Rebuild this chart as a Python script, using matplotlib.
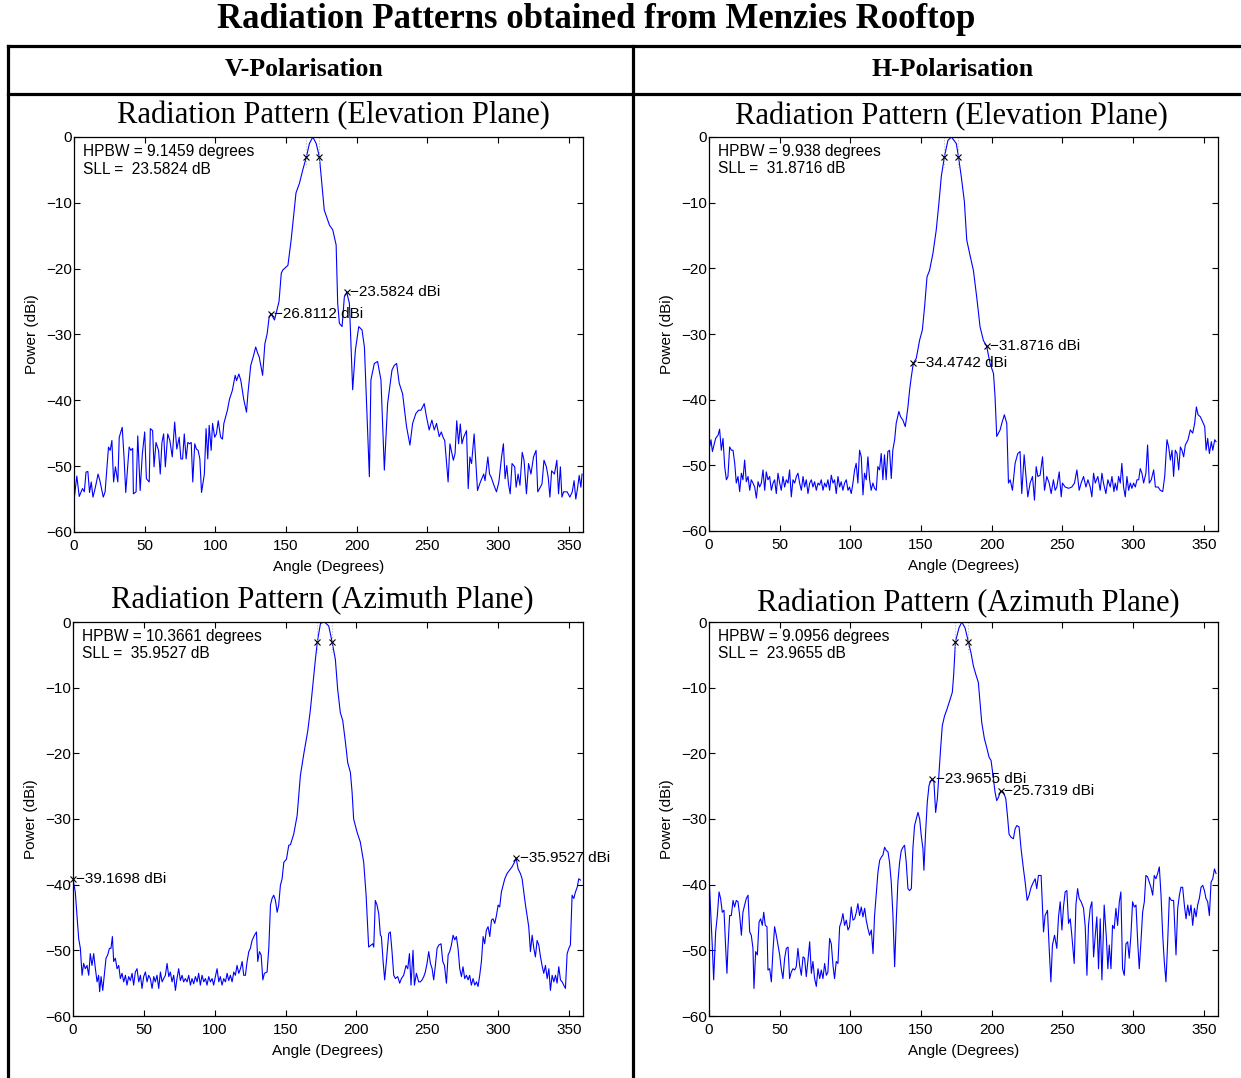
import matplotlib
matplotlib.use('Agg')
import matplotlib.pyplot as plt
from matplotlib.lines import Line2D

plt.rcParams['font.family'] = ['Liberation Sans', 'DejaVu Sans']

# ---- V-polarisation, elevation plane ----
v_el_ang = [0, 2, 3.7, 6, 7.3, 8.5, 9.8, 11, 12.2, 13.4, 14.6, 15.9, 17, 18.3, 20.7, 22,
            24.4, 25.6, 26.8, 28, 29.3, 31, 32, 34.1, 35.4, 36.6, 39, 40.2, 41.5, 42, 43.9,
            45.1, 46.8, 48.3, 50, 51.2, 53.2, 54, 55.6, 56.6, 58, 59.8, 61, 62.2, 63.4, 64.6,
            66.3, 67.8, 69.5, 71.2, 72.7, 74.4, 75.6, 76.8, 78, 79.3, 80.5, 81.7, 82.9, 84,
            85.4, 86.6, 87.8, 89, 90.2, 92.2, 93.4, 94.6, 95.6, 97, 98, 99.5, 100.7, 102,
            103.7, 105, 106, 108.5, 110, 112, 114, 115, 116.6, 118, 120, 122, 123, 125, 127,
            128.5, 130, 131, 133.4, 135, 136.6, 138, 139.3, 141.8, 145, 146.6, 147.7, 151.3,
            153.6, 157, 159.5, 161.8, 164.4, 166.5, 168.9, 171.3, 173.55, 177, 180.7, 183,
            185.4, 186.5, 187.7, 189.6, 191.2, 192.9, 194.8, 197.1, 199, 201.4, 203.7, 205.4,
            208.9, 210, 212.4, 214.7, 217.1, 219.5, 221.8, 224.9, 226.5, 228.2, 230, 232.4,
            235.2, 237.6, 239.5, 241.8, 243.7, 245.4, 247.7, 249.3, 251.2, 253.1, 254.8,
            256.4, 258.3, 259.8, 261, 262.2, 264.6, 265.9, 268.3, 269.5, 270.7, 272, 273.2,
            274.4, 275.6, 277.6, 278.8, 280, 281.2, 283, 285.4, 286.6, 287.8, 289.8, 290.7,
            292.7, 293.9, 295.1, 297, 298.8, 300.5, 302.4, 303.7, 304.9, 306.1, 307.3, 308.5,
            309.8, 311.7, 312.7, 314.1, 315.4, 317, 318.3, 320, 321.5, 323.2, 325, 326.8, 328,
            329.3, 331, 332.4, 334.1, 335.4, 336.6, 337.8, 339.8, 341.5, 342.7, 344, 345.1,
            346.3, 348.8, 350.7, 352.4, 353.7, 354.9, 356.1, 357.3, 358.5, 359.3]
v_el_pw = [-55.2, -51.5, -54.6, -53.4, -53.9, -50.9, -50.8, -54, -52.4, -54.7, -53.7, -52.4,
           -51.2, -52.2, -54.7, -53.9, -47.1, -47.6, -46.1, -52.4, -50.1, -52.4, -45.6, -44.1,
           -48.7, -54, -47.1, -47.6, -47.3, -54.2, -53.9, -45.4, -53.7, -48.2, -44.8, -51.9,
           -52.4, -44.3, -44.6, -50.1, -46.4, -47.6, -51.2, -46.4, -45.1, -50.1, -45.1, -46.1,
           -48.6, -43.3, -47.4, -45.6, -48.9, -48.9, -45.1, -48.9, -46.4, -46.6, -46.4, -52.4,
           -46.6, -47.4, -47.6, -48.9, -54, -51.2, -44.3, -48.9, -43.8, -47.6, -43.5, -45.6,
           -45.1, -43.1, -45.6, -45.9, -43.5, -41.5, -39.8, -38.5, -36.2, -37, -36, -37, -39.8,
           -41.8, -39, -34.7, -33.2, -31.9, -32.9, -33.4, -36.2, -31.4, -29.9, -27.4, -26.8112,
           -27.8, -25, -20.7, -20.2, -19.5, -15.6, -8.5, -7, -5, -3, -1, 0, -1, -3, -11.1, -13.4,
           -14.1, -16.4, -25.3, -28.3, -28.8, -24.3, -23.5824, -25.3, -38.4, -32.4, -28.8,
           -29.3, -31.9, -51.6, -36.9, -34.4, -34.1, -36.9, -50.6, -40.5, -35.4, -34.7, -34.4,
           -37.4, -39, -44, -46.8, -43.5, -42, -41.5, -41.5, -40.5, -42.5, -44.5, -43, -44.5,
           -43.5, -45.5, -44.8, -45.6, -46.1, -52.4, -46.6, -49.1, -48.1, -43.1, -46.6, -43.6,
           -46.6, -45.6, -44.6, -53.4, -48.6, -49.6, -45.1, -53.7, -52.9, -52.2, -51.2, -52.2,
           -48.6, -51.2, -51.7, -52.9, -53.9, -52.4, -48.6, -46.6, -51.9, -49.9, -52.7, -54.2,
           -49.6, -50.1, -53.2, -51.2, -52.9, -47.9, -49.1, -54.2, -49.6, -51.2, -48.6, -47.6,
           -53.9, -53.4, -52.7, -49.1, -50.1, -51.7, -54.7, -50.7, -51.2, -49.1, -54.2, -50.1,
           -54.7, -53.9, -53.9, -54.7, -53.9, -52.2, -55, -53.4, -51.4, -53.2, -51.2]

# ---- H-polarisation, elevation plane ----
h_el_ang = [0, 1.4, 2.4, 4.7, 6.4, 7.5, 8.7, 9.9, 11.1, 12.3, 13.4, 14.6, 15.8, 17, 18.2, 19.3,
            20.5, 21.7, 22.9, 24, 25.2, 26.4, 27.6, 28.8, 29.9, 31.1, 32.3, 33.5, 34.7, 35.8,
            37, 38.2, 39.4, 40.5, 41.7, 42.9, 44.1, 45.3, 46.4, 47.6, 48.8, 50, 51.1, 52.3,
            53.5, 54.7, 55.9, 57, 58.2, 59.4, 60.6, 61.8, 62.9, 64.1, 65.3, 66.5, 67.6, 68.8,
            70, 71.2, 72.4, 73.5, 74.7, 75.9, 77.1, 78.2, 79.4, 80.6, 81.8, 82.9, 84.1, 85.3,
            86.5, 87.7, 88.8, 90, 91.2, 92.4, 93.5, 94.7, 95.9, 97.1, 98.3, 99.4, 100.6, 101.8,
            103, 104.1, 105.3, 106.5, 107.7, 108.9, 110, 111.2, 112.4, 113.6, 114.7, 115.9,
            117.1, 118.3, 119.4, 120.6, 121.8, 123, 124.1, 125.3, 126.5, 127.7, 128.9, 130,
            131.3, 132.4, 134.3, 135.5, 137.1, 138.8, 139.5, 140.7, 141.9, 143.1, 144.5, 146.6,
            149, 150.9, 152.5, 154.2, 156, 158.4, 160.7, 162.6, 164.3, 166.5, 169, 171.5, 174.9,
            176.44, 178.4, 180.6, 182.3, 184.6, 187, 189.3, 191.7, 194.1, 196.4, 198.8, 201.2,
            202.3, 203.5, 205.9, 207.1, 208.9, 210.6, 211.8, 213, 214.6, 216.5, 218.4, 220,
            221.2, 222.9, 224, 225.5, 227.1, 228.8, 230.2, 231.4, 232.6, 234.2, 235.9, 237.3,
            238.9, 240.6, 242, 243.6, 244.8, 246, 247.7, 249.1, 250, 251.9, 254.3, 256.6, 258.5,
            260.2, 261.8, 263.2, 264.9, 266.6, 268, 269.6, 270.8, 272, 273.2, 275, 276.7, 277.9,
            279, 280.7, 282.1, 283.8, 285, 286.4, 287.3, 288.5, 289.7, 290.9, 292, 293.2, 294.4,
            295.6, 296.8, 298, 299.1, 300.3, 301.5, 302.7, 303.9, 305, 306.2, 307.4, 309, 310.2,
            311.4, 312.8, 314.5, 315.7, 317.6, 319.2, 320.9, 322.3, 323.9, 325.1, 326.3, 327.5,
            328.6, 329.8, 331, 332.2, 333.4, 334.5, 335.7, 336.9, 338.8, 340.4, 342.1, 343.5,
            344.7, 345.9, 347.5, 349.2, 350.6, 351.6, 352.7, 353.9, 355.3, 356.3, 357.7, 358.6]
h_el_pw = [-47.7, -46.1, -47.9, -45.9, -45.4, -44.5, -47.7, -45.9, -50.2, -52.2, -51.7, -47.2,
           -47.7, -47.7, -49.7, -52.7, -51.7, -54, -51.2, -52.2, -49.2, -52.5, -51.7, -53.8,
           -52.2, -52.7, -53.3, -55, -52.5, -53.3, -52.7, -50.7, -53.8, -51, -52.2, -51.7,
           -53.8, -52.7, -52.2, -54.3, -51.2, -52.7, -53.8, -51.7, -53.3, -52.2, -52.7, -50.7,
           -54.8, -52.2, -52.7, -51.7, -51.2, -52.7, -53.8, -51.7, -53.3, -52.2, -54.3, -52.7,
           -52.2, -53.3, -52.5, -53.8, -52.7, -53, -52.2, -53.8, -52.7, -53.3, -52.2, -53.8,
           -51.5, -52.7, -52.2, -54.3, -51.7, -53.3, -52.5, -53.8, -52.7, -52.2, -53.8, -53.3,
           -54.3, -52.7, -50.7, -49.7, -52.7, -47.7, -48.7, -54.5, -51.2, -52.2, -48.7, -52.2,
           -53.8, -52.7, -53.5, -53.8, -50.2, -50.7, -48.2, -52.2, -48.4, -52.2, -47.9, -47.7,
           -52, -47.7, -46.1, -43.6, -41.8, -42.6, -43.1, -44.1, -43.1, -41.1, -38.5, -36.5,
           -34.4742, -33.7, -30.9, -29.4, -25.8, -21.3, -20.3, -17.7, -14.2, -10.1, -6, -3,
           -0.5, 0, -1, -3, -6, -9.8, -15.7, -18, -20.3, -24.3, -28.9, -31, -31.8716, -34.5,
           -36, -39.5, -45.6, -44.6, -43.6, -42.3, -43.6, -52.7, -52.2, -53.8, -49.7, -48.2,
           -47.9, -54.3, -48.4, -51.2, -54.8, -52.7, -51.7, -55.3, -50.2, -51.7, -51.5, -48.7,
           -53.8, -51.7, -52.7, -54.3, -52.2, -53.8, -53.3, -51, -54.8, -52.7, -53.3, -53.5,
           -53.3, -52.7, -50.7, -53.8, -52.7, -51.7, -53.3, -52.2, -53.3, -54.8, -51.2, -52.7,
           -51.7, -53.8, -51.2, -52.7, -54.3, -52.2, -53.3, -51.7, -54, -52.7, -53.8, -51.7,
           -52.7, -49.7, -53.3, -54.8, -51.7, -53.8, -52.7, -53.5, -52.7, -53.3, -52.2, -52.2,
           -50.5, -51.2, -52.7, -51.2, -46.9, -52.7, -52.2, -50.7, -53.3, -53.3, -53.8, -54,
           -51.7, -46.1, -47.2, -49.2, -47.7, -51.7, -47.7, -48.2, -50.7, -47.2, -47.7, -48.7,
           -46.9, -46.1, -44.6, -45.1, -43.6, -41.1, -42.3, -42.6, -43.4, -44.1, -47.7, -45.9,
           -48.2, -46.4, -47.7, -46.1, -46.4]

# ---- V-polarisation, azimuth plane ----
v_az_ang = [0, 1.6, 2.8, 4, 5.2, 6.4, 7.5, 8.7, 9.9, 11.1, 12.2, 13.4, 14.6, 15.8, 17, 18.1,
            18.8, 19.8, 21, 22.1, 23.3, 24.5, 25.7, 26.8, 27.8, 28.7, 29.9, 31.1, 32.3, 33.4,
            34.6, 35.8, 37, 38.1, 39.3, 40.5, 41.7, 42.8, 44, 45.2, 46.4, 47.6, 48.7, 49.9,
            51.1, 52.3, 53.4, 54.6, 55.8, 57, 58.1, 59.3, 60.5, 61.7, 62.9, 64, 65.2, 66.4,
            67.6, 68.7, 69.9, 71.1, 72.3, 73.4, 74.6, 75.8, 77, 78.1, 79.3, 80.5, 81.7, 82.9,
            84, 85.2, 86.4, 87.6, 88.7, 89.9, 91.1, 92.3, 93.5, 94.6, 95.8, 97, 98.2, 99.3,
            100.5, 101.7, 102.9, 104, 105.2, 106.4, 107.6, 108.8, 109.9, 111.1, 112.3, 113.5,
            114.6, 115.8, 117, 118.2, 119.4, 120.5, 121.7, 122.9, 124.1, 125.2, 126.4, 128.1,
            129.5, 130.4, 131.6, 132.8, 134, 135.1, 137, 138.2, 139.4, 140.5, 141.7, 142.9,
            144.1, 145.2, 146.4, 147.6, 148.8, 150.7, 152.3, 153.5, 155.8, 158.2, 160.5, 162.9,
            165.7, 167.6, 169.5, 171.1, 172.5, 174.7, 177.5, 180.5, 182.87, 185.2, 186.8, 188.7,
            190.4, 192.3, 193.9, 195.8, 197, 198.1, 200.5, 202.8, 205.2, 206.9, 208.7, 210.4,
            211.6, 212.3, 213.4, 214.6, 215.8, 217, 217.7, 218.9, 220, 221.2, 222.9, 224,
            225.2, 226.4, 227.6, 229.2, 230.6, 231.8, 233.4, 235.1, 236.3, 237.5, 238.6, 240,
            241, 242.4, 244, 245.2, 246.4, 247.6, 248.7, 249.9, 251.1, 252.3, 253.5, 254.6,
            255.8, 257, 258.2, 259.8, 261, 262.2, 263.6, 264.8, 265.9, 267.1, 268.3, 269.5,
            270.6, 271.8, 273, 274.2, 275.3, 276.5, 277.7, 278.9, 280, 281.2, 282.4, 283.6,
            284.8, 285.9, 287.1, 288.3, 289.5, 290.6, 291.8, 293, 294.2, 295.4, 296.5, 297.7,
            298.9, 300.1, 301.2, 302.4, 303.6, 304.8, 306.4, 308.1, 309.9, 311.6, 312.8, 314.2,
            315.8, 317, 318.2, 319.4, 320.5, 321.7, 322.9, 324.1, 325.3, 326.4, 327.6, 328.8,
            330, 331.1, 332.3, 333.5, 334.7, 335.9, 337, 338.2, 339.4, 340.6, 341.7, 342.9,
            344.1, 345.3, 346.4, 347.6, 348.8, 350, 351.1, 352.3, 353.5, 354.7, 355.9, 357,
            358.2]
v_az_pw = [-39.1698, -41.1, -44.7, -48.2, -49.7, -53.8, -52, -52.8, -52.3, -53.8, -50.5, -52.3,
           -50.5, -52.8, -54.8, -53.8, -56.3, -54, -56.1, -53.8, -51.2, -50.7, -49.7, -49.7,
           -47.9, -51.7, -51.2, -52.8, -52.3, -54.3, -53.5, -54.8, -53.8, -55.3, -54, -54.6,
           -53.5, -55.3, -53.3, -52.8, -54.8, -53.8, -55.8, -54, -53.3, -54.8, -53.8, -54.3,
           -55.8, -54, -54.8, -53.8, -55.8, -53.3, -54.8, -54.3, -53.8, -52, -54, -53.3, -54.8,
           -53.8, -56.1, -54.3, -52.8, -54.6, -53.8, -54.8, -54.3, -54.8, -53.8, -55.3, -54.3,
           -55.1, -54, -54.8, -53.5, -55.3, -53.8, -54.8, -54.3, -55.3, -54, -54.8, -54.3,
           -55.3, -54, -52.8, -54.8, -54, -55.3, -54.3, -54.8, -53.5, -54.6, -53.8, -54.8,
           -53.3, -53.8, -52.3, -53.5, -52.8, -51.7, -53.8, -53.8, -51.7, -50.2, -49.7, -48.5,
           -47.7, -47.2, -51.7, -50.2, -50.7, -54.5, -53.5, -53.3, -49.7, -43.1, -42.1, -41.6,
           -42.4, -44.2, -43.1, -40.1, -39.1, -36.6, -36.1, -34, -33.9, -32.3, -29.5, -23.4,
           -20.1, -16.6, -13.3, -9.2, -5.7, -3, -0.2, 0, -0.6, -3, -5.7, -10.2, -13.8, -15,
           -18.3, -21.4, -22.9, -25.9, -30, -32, -33.5, -36.6, -41.6, -49.5, -49.2, -49, -49.5,
           -42.4, -43.1, -44.4, -47.7, -47.9, -51.7, -54.5, -51.7, -47.4, -47.2, -50.2, -53.8,
           -54.3, -54, -55, -54.3, -53.8, -52.3, -52.8, -50.5, -55.3, -50, -55.3, -53.5, -54.8,
           -54.8, -54.5, -54, -53.3, -52, -50.2, -52, -52.8, -54.5, -52.3, -49.7, -49.2, -49,
           -51.7, -52.3, -55, -50.7, -50.2, -49.2, -47.7, -48.4, -47.9, -49.7, -52.8, -54,
           -52.5, -54.3, -53.8, -54.5, -53.8, -55.3, -54.3, -55.3, -54.8, -55.5, -53.8, -51.7,
           -47.9, -49, -46.9, -46.4, -47.9, -45.4, -45.2, -45.9, -44.7, -43.1, -43.4, -41.1,
           -40.1, -39.1, -38.3, -37.8, -37.3, -36.6, -35.9527, -37.6, -38.3, -39.1, -41.1,
           -43.1, -44.7, -46.4, -50.2, -47.7, -49.7, -51, -48.5, -49.2, -51, -52.3, -53.5,
           -52.3, -54.3, -52.8, -56.1, -53.8, -54.8, -53.8, -55, -52.5, -54.5, -54.8, -55.3,
           -55.8, -50.5, -49.7, -49.2, -41.6, -42.1, -41.1, -40.4, -39.1, -39.3]

# ---- H-polarisation, azimuth plane ----
h_az_ang = [0, 2.4, 3.3, 4.7, 5.9, 7.1, 8.2, 9.4, 10.6, 11.8, 12.7, 13.4, 14.6, 15.8, 17, 18.1,
            19.3, 20.5, 21.7, 22.9, 24, 25.2, 26.4, 27.6, 28.8, 29.9, 31.1, 31.8, 33, 34.2,
            35.4, 36.5, 37.7, 38.7, 39.8, 41, 41.7, 42.9, 44.1, 45.2, 46.4, 47.6, 48.8, 50,
            51.1, 52.3, 53.5, 54.7, 55.9, 57, 58.2, 59.4, 60.6, 61.7, 62.9, 64.1, 65.3, 66.5,
            67.6, 68.8, 70, 71.2, 72.4, 73.5, 74.7, 75.9, 77.1, 78.3, 79.4, 80.6, 81.8, 83,
            84.1, 85.3, 86.5, 87.7, 88.8, 90, 91.2, 92.4, 93.5, 94.7, 95.9, 97.1, 98.3, 99.4,
            100.6, 101.8, 103, 104.2, 105.3, 106.5, 107.7, 108.9, 110.1, 111.2, 112.4, 113.6,
            114.8, 116, 117.1, 118.3, 119.5, 120.7, 121.9, 123, 124.2, 125.4, 126.6, 127.7,
            128.9, 130.1, 131.3, 132.5, 133.6, 134.8, 136, 137.2, 138.3, 139.5, 140.7, 141.9,
            143.1, 144.2, 145.4, 146.6, 147.8, 149, 150.1, 151.3, 152, 153.2, 154.4, 155.6,
            156.8, 157.9, 159.1, 160.3, 161.5, 162.7, 163.8, 165, 166.6, 168.3, 170.2, 172.1,
            173, 174.3, 176.8, 178.8, 181.1, 183.4, 185.3, 187, 188.6, 190.5, 191.7, 192.9,
            194.8, 196.4, 198.1, 199.5, 201.2, 202.3, 203.5, 204.7, 206.3, 208.2, 209.9, 211.1,
            212.2, 213.7, 215.3, 216.5, 217.7, 219.3, 220.7, 222.4, 223.6, 225, 226.4, 227.8,
            229.5, 230.7, 231.8, 233, 234.9, 236.6, 237.7, 239.4, 240.6, 241.8, 242.9, 244.4,
            246, 247.2, 248.4, 249.6, 250.7, 251.9, 253.1, 254.3, 255.5, 256.6, 258.3, 259.5,
            260.7, 261.8, 263.2, 264.9, 266.1, 267.3, 268.4, 269.6, 270.8, 272, 273.2, 274.3,
            275.5, 276.7, 277.9, 279.5, 281, 282.1, 283.1, 284.3, 285.4, 286.6, 287.8, 289,
            290.2, 291.3, 292.5, 293.7, 294.9, 296.1, 297.2, 298.4, 299.6, 300.8, 302, 303.2,
            304.3, 305.5, 306.7, 307.9, 309, 310.2, 311.4, 312.6, 313.8, 314.9, 316.1, 317.3,
            318.5, 319.7, 320.9, 322, 323.2, 324.4, 325.6, 327, 328.6, 330.3, 331.5, 332.7,
            333.8, 335, 336.2, 337.4, 338.6, 339.7, 340.9, 342.1, 343.3, 344.5, 345.6, 346.8,
            348, 349.2, 350.4, 351.5, 352.7, 353.9, 355.1, 356.3, 357.5, 358.6]
h_az_pw = [-38.6, -49.7, -54.5, -47.2, -44.7, -41.1, -42.1, -44.2, -43.9, -49.7, -53.5, -49.7,
           -44.7, -44.7, -42.4, -43.4, -42.4, -42.6, -44.7, -47.7, -44.2, -43.1, -42.1, -41.6,
           -47.2, -47.7, -49.7, -55.8, -50.2, -50.7, -45.7, -45.2, -46.2, -44.2, -46.2, -46.4,
           -53, -52.8, -54.8, -50.2, -46.4, -47.7, -49.2, -50.7, -52.8, -54.3, -51.2, -49.7,
           -49.5, -54.3, -53.3, -52.8, -53, -52.5, -49.7, -52.3, -53.8, -51, -51.2, -54, -51.5,
           -48.7, -53.5, -51.7, -54.3, -55.5, -52.8, -54.3, -53, -54.3, -52, -53.8, -53.3,
           -48.2, -49, -52.3, -54.3, -51.7, -52, -46.4, -45.7, -44.4, -46.2, -45.4, -46.9,
           -46.4, -43.4, -45.4, -45.2, -44.2, -42.9, -44.7, -43.4, -44.9, -43.6, -45.4, -46.7,
           -47.7, -46.9, -50.5, -44.7, -41.4, -38.1, -36.3, -35.8, -35.5, -34.3, -34.8, -35,
           -36.6, -39.6, -44.7, -52.5, -45.2, -39.6, -36.6, -34.8, -34.3, -34, -36.6, -40.6,
           -40.9, -40.6, -34.5, -31, -30, -29, -30, -32.5, -34.5, -37.8, -32, -27.4, -24.9,
           -24.2, -23.9655, -24.4, -29, -26.9, -22.9, -19.3, -15.8, -14.3, -13.3, -12, -10.7,
           -8.2, -3, -0.9, 0, -0.9, -3, -4.7, -6.7, -7.9, -9.2, -12.3, -15.3, -17.8, -19.1,
           -20.6, -21.1, -23.9, -25.9, -27.2, -26.7, -25.7319, -25.9, -26.9, -29.5, -32.3,
           -32.8, -33, -31.5, -31, -31.2, -34.5, -37.6, -39.6, -42.4, -41.6, -40.4, -39.6,
           -39.1, -40.6, -38.6, -38.6, -47.2, -44.7, -43.9, -49.7, -54.8, -49.2, -47.7, -49.7,
           -44.9, -42.6, -46.9, -43.4, -41.1, -40.9, -45.9, -45.2, -47.7, -52, -43.1, -40.6,
           -42.1, -42.6, -43.6, -46.4, -53.8, -46.2, -43.6, -42.6, -51, -47.7, -44.9, -52.8,
           -45.2, -54.5, -43.1, -47.9, -52.8, -49.2, -52.8, -46.2, -46.7, -43.6, -46.2, -42.6,
           -41.1, -52.8, -53.8, -49, -48.7, -51.2, -47.7, -42.6, -43.4, -43.1, -48.7, -52.8,
           -48.7, -44.2, -42.6, -38.6, -38.8, -39.6, -40.4, -41.6, -38.6, -39.1, -38.3, -37.3,
           -41.6, -47.7, -51.7, -54.8, -48.7, -41.9, -42.4, -42.4, -50.7, -43.6, -41.6, -40.4,
           -40.4, -43.1, -45.2, -43.1, -44.7, -43.1, -46.2, -43.6, -44.9, -43.1, -42.1, -40.4,
           -40.1, -40.9, -42.1, -42.6, -44.7, -39.6, -39.1, -37.6, -38.3]

# half-power beamwidths (degrees) and the left -3 dB crossing of each main lobe
hpbw = [9.1459, 9.938, 10.3661, 9.0956]
hp_left = [164.4, 166.5, 172.5, 174.3]

# strongest sidelobes either side of the main beam
lobe_ang = [[139.3, 192.9], [144.5, 196.4], [0.0, 312.8], [157.9, 206.3]]
lobe_pw = [[-26.8112, -23.5824], [-34.4742, -31.8716], [-39.1698, -35.9527], [-23.9655, -25.7319]]

plane_titles = ['Radiation Pattern (Elevation Plane)', 'Radiation Pattern (Elevation Plane)',
                'Radiation Pattern (Azimuth Plane)', 'Radiation Pattern (Azimuth Plane)']
col_headers = ['V-Polarisation', 'H-Polarisation']

series = [(v_el_ang, v_el_pw), (h_el_ang, h_el_pw), (v_az_ang, v_az_pw), (h_az_ang, h_az_pw)]

W, H = 1241, 1078
fig = plt.figure(figsize=(W / 100, H / 100), dpi=100)


def fx(px):
    return px / W


def fy(py):
    return 1 - py / H


# axes boxes in pixels: left, top, right, bottom
boxes = [(74, 137, 583, 532), (709, 137, 1218, 531), (73, 622, 583, 1016), (709, 622, 1218, 1016)]
title_pos = [(333, 116), (951, 117), (322, 601), (968, 604)]

for i, (ang, pw) in enumerate(series):
    l, t, r, b = boxes[i]
    ax = fig.add_axes([fx(l), fy(b), (r - l) / W, (b - t) / H])
    ax.plot(ang, pw, color='#0000ff', lw=0.8)

    # half-power points
    left = hp_left[i]
    right = left + hpbw[i]
    for a in (left, right):
        ax.plot([a, a], [0, -4.5], ':', color='0.7', lw=0.8)
    ax.plot([left, right], [-3, -3], 'kx', ms=4, mew=0.8, ls='none')

    # sidelobe markers with their levels
    for a, p in zip(lobe_ang[i], lobe_pw[i]):
        ax.plot(a, p, 'kx', ms=4, mew=0.8, clip_on=False)
        ax.annotate('\u2212%.4f dBi' % abs(p), (a, p), xytext=(2.5, 0),
                    textcoords='offset points', va='center', ha='left', fontsize=11,
                    annotation_clip=False)

    sll = -max(lobe_pw[i])
    ax.text(0.017, 0.982, 'HPBW = %s degrees\nSLL =  %.4f dB' % (hpbw[i], sll),
            transform=ax.transAxes, va='top', ha='left', fontsize=11.2, linespacing=1.2)

    ax.set_xlim(0, 360)
    ax.set_ylim(-60, 0)
    ax.set_xticks(range(0, 360, 50))
    ax.set_yticks(range(-60, 1, 10))
    ax.set_yticklabels([str(v).replace('-', '\u2212') for v in range(-60, 1, 10)])
    ax.tick_params(direction='in', top=True, right=True, length=4, width=0.8,
                   labelsize=11, pad=1.5)
    ax.tick_params(axis='x', pad=5)
    for sp in ax.spines.values():
        sp.set_linewidth(0.9)
    ax.set_xlabel('Angle (Degrees)', fontsize=11)
    ax.set_ylabel('Power (dBi)', fontsize=11)
    ax.xaxis.set_label_coords(0.5, -0.07)
    ax.yaxis.set_label_coords(-0.068, 0.5)

    tx, ty = title_pos[i]
    fig.text(fx(tx), fy(ty), plane_titles[i], ha='center', va='center',
             family='Liberation Serif', fontsize=22)

# table frame around the panels
lw_frame = 2.3
fig.add_artist(Line2D([fx(8), 1.0], [fy(46), fy(46)], color='black', lw=lw_frame))
fig.add_artist(Line2D([fx(8), 1.0], [fy(94), fy(94)], color='black', lw=lw_frame))
fig.add_artist(Line2D([fx(8), fx(8)], [fy(46), 0], color='black', lw=lw_frame))
fig.add_artist(Line2D([fx(633), fx(633)], [fy(46), 0], color='black', lw=lw_frame))

fig.text(fx(304), fy(70), col_headers[0], ha='center', va='center',
         family='Liberation Serif', fontweight='bold', fontsize=18.5)
fig.text(fx(953), fy(69), col_headers[1], ha='center', va='center',
         family='Liberation Serif', fontweight='bold', fontsize=18.5)

fig.text(fx(596), fy(20), 'Radiation Patterns obtained from Menzies Rooftop', ha='center',
         va='center', family='Liberation Serif', fontweight='bold', fontsize=25)

fig.savefig('out.png', dpi=100)
